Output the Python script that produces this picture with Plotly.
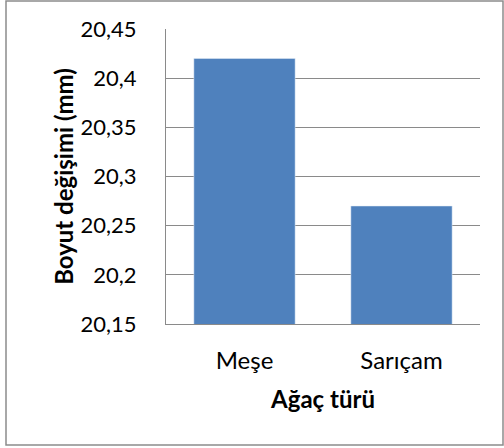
import plotly.graph_objects as go

# data
turler = ["Meşe", "Sarıçam"]
boyut = [20.42, 20.27]
y_ticks = [20.15, 20.2, 20.25, 20.3, 20.35, 20.4, 20.45]
y_ticktext = ["20,15", "20,2", "20,25", "20,3", "20,35", "20,4", "20,45"]

W, H = 504, 448
L, R, T, B = 166, 24, 29, 124
pw, ph = W - L - R, H - T - B

def px_x(p):
    return (p - L) / pw

def px_y(p):
    return (H - B - p) / ph

fig = go.Figure()
fig.add_trace(go.Bar(x=turler, y=boyut, marker_color="#4F81BD", width=0.645))

font = "Lato, Open Sans, sans-serif"
fig.update_layout(
    width=W, height=H,
    margin=dict(l=L, r=R, t=T, b=B),
    plot_bgcolor="white", paper_bgcolor="white",
    font=dict(family=font, size=22, color="black"),
    showlegend=False,
    shapes=[dict(type="rect", xref="paper", yref="paper",
                 x0=px_x(6), x1=px_x(503), y0=px_y(445), y1=px_y(1),
                 line=dict(color="#8C8C8C", width=1.5), layer="below")],
)
fig.update_yaxes(
    range=[20.15, 20.45], tickvals=y_ticks, ticktext=y_ticktext,
    tickfont=dict(size=22),
    showgrid=True, gridcolor="#8A8A8A", gridwidth=1,
    showline=True, linecolor="#8A8A8A", linewidth=1,
    ticks="", ticklabelstandoff=24, zeroline=False,
    title=dict(text="<b>Boyut değişimi (mm)</b>", font=dict(size=24), standoff=0),
)
fig.update_xaxes(
    showline=True, linecolor="#8A8A8A", linewidth=1,
    tickfont=dict(size=24),
    ticks="", ticklabelstandoff=15,
    title=dict(text="<b>Ağaç türü</b>", font=dict(size=24), standoff=18),
)

fig.write_html("out.html", config={"displayModeBar": False},
               post_script="document.body.style.margin='0';")
